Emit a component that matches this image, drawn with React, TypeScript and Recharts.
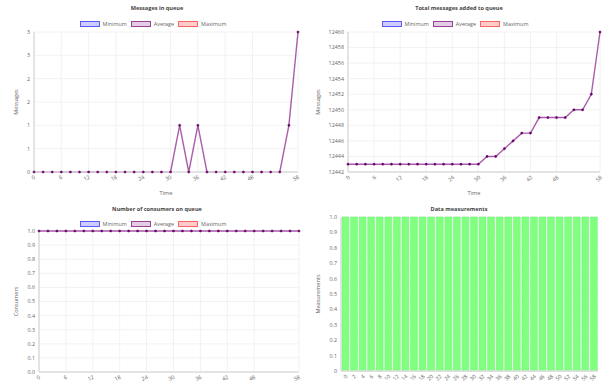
import { Bar, BarChart, CartesianGrid, Line, LineChart, XAxis, YAxis } from 'recharts';

const FONT = "'Open Sans', 'Liberation Sans', sans-serif";
const TICK_COLOR = '#666';
const GRID_COLOR = '#efefef';
const AXIS_COLOR = '#dcdcdc';
const LINE_COLOR = 'rgba(140, 40, 140, 0.75)';
const DOT_COLOR = '#6a006a';

// time labels (seconds)
const times = [0, 2, 4, 6, 8, 10, 12, 14, 16, 18, 20, 22, 24, 26, 28, 30, 32, 34, 36, 38, 40, 42, 44, 46, 48, 50, 52, 54, 56, 58];

const messagesInQueue = [0, 0, 0, 0, 0, 0, 0, 0, 0, 0, 0, 0, 0, 0, 0, 0, 1, 0, 1, 0, 0, 0, 0, 0, 0, 0, 0, 0, 1, 3];

const totalMessagesAdded = [
  12443, 12443, 12443, 12443, 12443, 12443, 12443, 12443, 12443, 12443, 12443, 12443, 12443, 12443, 12443, 12443,
  12444, 12444, 12445, 12446, 12447, 12447, 12449, 12449, 12449, 12449, 12450, 12450, 12452, 12460,
];

const consumers = [1, 1, 1, 1, 1, 1, 1, 1, 1, 1, 1, 1, 1, 1, 1, 1, 1, 1, 1, 1, 1, 1, 1, 1, 1, 1, 1, 1, 1, 1];

const measurements = [1, 1, 1, 1, 1, 1, 1, 1, 1, 1, 1, 1, 1, 1, 1, 1, 1, 1, 1, 1, 1, 1, 1, 1, 1, 1, 1, 1, 1, 1];

const timeTicks = [0, 6, 12, 18, 24, 30, 36, 42, 48, 58];
const queueTicks = [0, 0.5, 1, 1.5, 2, 2.5, 3];
const addedTicks = [12442, 12444, 12446, 12448, 12450, 12452, 12454, 12456, 12458, 12460];
const fractionTicks = [0, 0.1, 0.2, 0.3, 0.4, 0.5, 0.6, 0.7, 0.8, 0.9, 1];

const legendSeries = [
  { name: 'Minimum', stroke: 'rgba(70, 70, 255, 0.85)', fill: '#ccccff' },
  { name: 'Average', stroke: 'rgba(140, 40, 140, 0.85)', fill: '#e3cde3' },
  { name: 'Maximum', stroke: 'rgba(255, 80, 80, 0.85)', fill: '#ffcccc' },
];

const queueData = times.map((t, i) => ({ time: t, average: messagesInQueue[i] }));
const addedData = times.map((t, i) => ({ time: t, average: totalMessagesAdded[i] }));
const consumerData = times.map((t, i) => ({ time: t, average: consumers[i] }));
const measurementData = times.map((t, i) => ({ time: String(t), count: measurements[i] }));

const tickStyle = { fontSize: 5.4, fill: TICK_COLOR, fontFamily: FONT };
const axisLabelStyle = { fontSize: 5.6, fill: TICK_COLOR, fontFamily: FONT };

function Title({ cx, cy, text }: { cx: number; cy: number; text: string }) {
  return (
    <div
      style={{
        position: 'absolute',
        left: cx - 100,
        top: cy - 4,
        width: 200,
        textAlign: 'center',
        fontFamily: FONT,
        fontWeight: 700,
        fontSize: 5.6,
        lineHeight: '8px',
        color: '#444',
      }}
    >
      {text}
    </div>
  );
}

function SeriesLegend({ cx, cy }: { cx: number; cy: number }) {
  return (
    <div
      style={{
        position: 'absolute',
        left: cx - 100,
        top: cy - 4,
        width: 200,
        height: 8,
        display: 'flex',
        justifyContent: 'center',
        alignItems: 'center',
        fontFamily: FONT,
        fontSize: 5.4,
        color: TICK_COLOR,
      }}
    >
      {legendSeries.map((s) => (
        <div key={s.name} style={{ display: 'flex', alignItems: 'center', marginRight: 4 }}>
          <span
            style={{
              display: 'inline-block',
              boxSizing: 'border-box',
              width: 20,
              height: 6,
              border: `1.5px solid ${s.stroke}`,
              background: s.fill,
              marginRight: 3,
            }}
          />
          <span>{s.name}</span>
        </div>
      ))}
    </div>
  );
}

function TimeLine({
  data,
  width,
  height,
  margin,
  yWidth,
  yTicks,
  yFormat,
  yLabel,
  angle,
  showTime,
  xHeight,
}: {
  data: { time: number; average: number }[];
  width: number;
  height: number;
  margin: { top: number; right: number; bottom: number; left: number };
  yWidth: number;
  yTicks: number[];
  yFormat: (v: number) => string;
  yLabel: string;
  angle: number;
  showTime: boolean;
  xHeight: number;
}) {
  return (
    <LineChart width={width} height={height} data={data} margin={margin}>
      <CartesianGrid stroke={GRID_COLOR} strokeWidth={0.8} />
      <XAxis
        dataKey="time"
        type="number"
        domain={[0, 58]}
        ticks={timeTicks}
        interval={0}
        tickSize={0}
        tickMargin={3}
        angle={angle}
        textAnchor="end"
        tick={tickStyle}
        tickLine={false}
        axisLine={{ stroke: AXIS_COLOR, strokeWidth: 1.5 }}
        height={xHeight}
        label={showTime ? { value: 'Time', position: 'insideBottom', offset: 0, ...axisLabelStyle } : undefined}
      />
      <YAxis
        type="number"
        domain={[yTicks[0], yTicks[yTicks.length - 1]]}
        ticks={yTicks}
        interval={0}
        tickFormatter={yFormat}
        tickSize={0}
        tickMargin={4}
        tick={tickStyle}
        tickLine={false}
        axisLine={{ stroke: AXIS_COLOR, strokeWidth: 1.5 }}
        width={yWidth}
        label={{
          value: yLabel,
          angle: -90,
          position: 'insideLeft',
          offset: 16,
          fill: TICK_COLOR,
          style: { textAnchor: 'middle', fill: TICK_COLOR },
          fontSize: 5.6,
          fontFamily: FONT,
        }}
      />
      <Line
        type="linear"
        dataKey="average"
        stroke={LINE_COLOR}
        strokeWidth={1.4}
        dot={{ r: 1.1, fill: DOT_COLOR, stroke: DOT_COLOR, strokeWidth: 0.5 }}
        isAnimationActive={false}
      />
    </LineChart>
  );
}

export default function App() {
  return (
    <div style={{ position: 'absolute', left: 0, top: 0, width: 605, height: 387, background: '#fff', overflow: 'hidden' }}>
      <div style={{ position: 'absolute', left: 302, top: 195 }}>
        <BarChart width={303} height={192} data={measurementData} margin={{ top: 22, right: 7, bottom: 0, left: 0 }} barCategoryGap="11%">
          <CartesianGrid stroke={GRID_COLOR} strokeWidth={0.8} vertical={false} />
          <XAxis
            dataKey="time"
            interval={0}
            tickSize={0}
            tickMargin={3}
            angle={-45}
            textAnchor="end"
            tick={tickStyle}
            tickLine={false}
            axisLine={{ stroke: AXIS_COLOR, strokeWidth: 1.5 }}
            height={16}
          />
          <YAxis
            type="number"
            domain={[0, 1]}
            ticks={fractionTicks}
            interval={0}
            tickFormatter={(v: number) => (v === 0 ? '0' : v.toFixed(1))}
            tickSize={0}
            tickMargin={4}
            tick={tickStyle}
            tickLine={false}
            axisLine={{ stroke: AXIS_COLOR, strokeWidth: 1.5 }}
            width={39}
            label={{
              value: 'Measurements',
              angle: -90,
              position: 'insideLeft',
              offset: 16,
              fill: TICK_COLOR,
              style: { textAnchor: 'middle', fill: TICK_COLOR },
              fontSize: 5.6,
              fontFamily: FONT,
            }}
          />
          <Bar dataKey="count" fill="#80ff80" stroke="#70f070" strokeWidth={0.5} isAnimationActive={false} />
        </BarChart>
      </div>
      <div style={{ position: 'absolute', left: 0, top: 195 }}>
        <TimeLine
          data={consumerData}
          width={305}
          height={192}
          margin={{ top: 36, right: 6, bottom: 0, left: 0 }}
          yWidth={39}
          yTicks={fractionTicks}
          yFormat={(v) => v.toFixed(1)}
          yLabel="Consumers"
          angle={-25}
          showTime={false}
          xHeight={15}
        />
      </div>
      <div style={{ position: 'absolute', left: 0, top: 0 }}>
        <TimeLine
          data={queueData}
          width={305}
          height={199}
          margin={{ top: 32, right: 7, bottom: 4, left: 0 }}
          yWidth={34}
          yTicks={queueTicks}
          yFormat={(v) => String(Math.round(v))}
          yLabel="Messages"
          angle={-25}
          showTime
          xHeight={23}
        />
      </div>
      <div style={{ position: 'absolute', left: 302, top: 0 }}>
        <TimeLine
          data={addedData}
          width={303}
          height={199}
          margin={{ top: 32, right: 5, bottom: 4, left: 0 }}
          yWidth={46}
          yTicks={addedTicks}
          yFormat={(v) => String(v)}
          yLabel="Messages"
          angle={-40}
          showTime
          xHeight={23}
        />
      </div>
      <Title cx={157} cy={8} text="Messages in queue" />
      <SeriesLegend cx={155} cy={24} />
      <Title cx={459} cy={8} text="Total messages added to queue" />
      <SeriesLegend cx={457} cy={24} />
      <Title cx={157} cy={209} text="Number of consumers on queue" />
      <SeriesLegend cx={155} cy={224} />
      <Title cx={459} cy={209} text="Data measurements" />
    </div>
  );
}
